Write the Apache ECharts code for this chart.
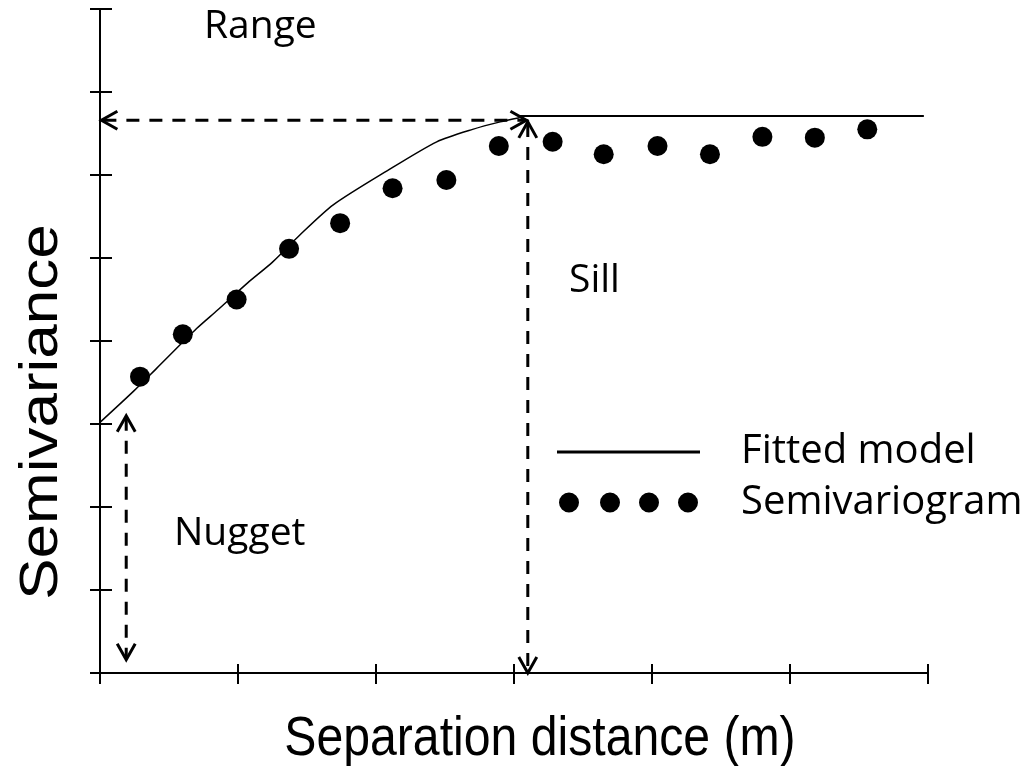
<!DOCTYPE html>
<html><head><meta charset="utf-8">
<script src="https://cdn.jsdelivr.net/npm/echarts@6/dist/echarts.min.js"></script>
<style>html,body{margin:0;padding:0;background:#fff}#c{width:1027px;height:766px}</style>
</head><body><div id="c"></div>
<script>
// ---- data ----
const semivariogramX = [0.29, 0.60, 0.99, 1.37, 1.74, 2.12, 2.51, 2.89, 3.28, 3.65, 4.04, 4.42, 4.80, 5.18, 5.56];
const semivariogramY = [3.57, 4.08, 4.50, 5.11, 5.42, 5.84, 5.94, 6.35, 6.40, 6.25, 6.35, 6.25, 6.46, 6.45, 6.55];
const modelX = [0.00, 0.24, 0.41, 0.70, 0.85, 1.07, 1.25, 1.45, 1.69, 2.08, 2.44, 2.70, 2.90, 3.04];
const modelY = [3.02, 3.39, 3.67, 4.15, 4.37, 4.70, 4.95, 5.28, 5.64, 6.05, 6.40, 6.55, 6.64, 6.69];
const sillLineX = [3.04, 5.97];
const sillLineY = [6.71, 6.71];
// annotation arrows: [x1, y1, x2, y2]
const rangeArrow = [0.01, 6.66, 3.09, 6.66];
const sillArrow = [3.10, 6.64, 3.10, 0.00];
const nuggetArrow = [0.19, 3.10, 0.19, 0.16];
const xMin = 0, xMax = 6, xStep = 1;
const yMin = 0, yMax = 8, yStep = 1;
const labels = {range: 'Range', sill: 'Sill', nugget: 'Nugget',
  xTitle: 'Separation distance (m)', yTitle: 'Semivariance',
  model: 'Fitted model', points: 'Semivariogram'};

const zip = (a, b) => a.map((v, i) => [v, b[i]]);
const BLACK = '#000';
const tickStyle = {color: BLACK, width: 2};

function arrowItem(params, api) {
  const p1 = api.coord([api.value(0), api.value(1)]);
  const p2 = api.coord([api.value(2), api.value(3)]);
  const dx = p2[0] - p1[0], dy = p2[1] - p1[1];
  const len = Math.hypot(dx, dy), ux = dx / len, uy = dy / len;
  const L = 16, W = 9;
  const head = (p, ax, ay) => ({
    type: 'polyline',
    shape: {points: [
      [p[0] - ax * L - ay * W, p[1] - ay * L + ax * W],
      [p[0], p[1]],
      [p[0] - ax * L + ay * W, p[1] - ay * L - ax * W]]},
    style: {stroke: BLACK, lineWidth: 3, fill: null, lineJoin: 'miter'}
  });
  return {type: 'group', children: [
    {type: 'line', shape: {x1: p1[0] + ux * 2, y1: p1[1] + uy * 2, x2: p2[0] - ux * 2, y2: p2[1] - uy * 2},
     style: {stroke: BLACK, lineWidth: 3, lineDash: [13, 10]}},
    head(p2, ux, uy), head(p1, -ux, -uy)
  ]};
}

const dotsIcon = 'path://M0,10a10,10 0 1,0 20,0a10,10 0 1,0 -20,0Z' +
  'M41,10a10,10 0 1,0 20,0a10,10 0 1,0 -20,0Z' +
  'M80,10a10,10 0 1,0 20,0a10,10 0 1,0 -20,0Z' +
  'M119,10a10,10 0 1,0 20,0a10,10 0 1,0 -20,0Z';

const chart = echarts.init(document.getElementById('c'), null, {renderer: 'canvas'});
const axisCommon = {type: 'value', axisLabel: {show: false}, splitLine: {show: false}};
chart.setOption({
  animation: false,
  backgroundColor: '#fff',
  grid: {left: 100, right: 99, top: 9, bottom: 93},
  xAxis: [
    Object.assign({}, axisCommon, {min: xMin, max: xMax, interval: xStep, position: 'bottom',
      axisLine: {show: true, onZero: false, lineStyle: {color: BLACK, width: 2}},
      axisTick: {show: true, inside: false, length: 11, lineStyle: tickStyle}}),
    Object.assign({}, axisCommon, {min: xMin, max: xMax, interval: xStep, position: 'bottom',
      axisLine: {show: false}, axisTick: {show: true, inside: true, length: 9, lineStyle: tickStyle}})
  ],
  yAxis: [
    Object.assign({}, axisCommon, {min: yMin, max: yMax, interval: yStep, position: 'left',
      axisLine: {show: true, onZero: false, lineStyle: {color: BLACK, width: 2}},
      axisTick: {show: true, inside: false, length: 10, lineStyle: tickStyle}}),
    Object.assign({}, axisCommon, {min: yMin, max: yMax, interval: yStep, position: 'left',
      axisLine: {show: false}, axisTick: {show: true, inside: true, length: 12, lineStyle: tickStyle}})
  ],
  legend: {
    orient: 'vertical', left: 557, top: 432, padding: 0, itemWidth: 143, itemHeight: 20, itemGap: 4,
    selectedMode: false,
    itemStyle: {borderWidth: 0, opacity: 1},
    textStyle: {fontFamily: 'Open Sans', fontSize: 40, color: BLACK, lineHeight: 30, padding: [0, 0, 0, 36]},
    data: [
      {name: labels.model, icon: 'path://M0,0H143V3H0Z', textStyle: {padding: [0, 0, 7, 36]}},
      {name: labels.points, icon: dotsIcon, textStyle: {padding: [0, 0, 23, 36]}}
    ]
  },
  series: [
    {name: labels.model, type: 'line', data: zip(modelX, modelY), symbol: 'none', color: BLACK, smooth: 0.25,
     lineStyle: {color: BLACK, width: 1.5}, silent: true, z: 3},
    {name: labels.model, type: 'line', data: zip(sillLineX, sillLineY), symbol: 'none', color: BLACK,
     lineStyle: {color: BLACK, width: 2}, silent: true, z: 3},
    {name: labels.points, type: 'scatter', data: zip(semivariogramX, semivariogramY), symbol: 'circle',
     symbolSize: 20, color: BLACK, itemStyle: {color: BLACK, opacity: 1}, silent: true, z: 4},
    {name: 'arrows', type: 'custom', renderItem: arrowItem, silent: true, clip: false, z: 2,
     data: [rangeArrow, sillArrow, nuggetArrow]}
  ],
  graphic: [
    {type: 'text', x: 204, y: 27, style: {text: labels.range, fontFamily: 'Open Sans', fontSize: 39, fill: BLACK, align: 'left', verticalAlign: 'middle'}},
    {type: 'text', x: 569, y: 281, style: {text: labels.sill, fontFamily: 'Open Sans', fontSize: 39, fill: BLACK, align: 'left', verticalAlign: 'middle'}},
    {type: 'text', x: 174, y: 534, style: {text: labels.nugget, fontFamily: 'Open Sans', fontSize: 39, fill: BLACK, align: 'left', verticalAlign: 'middle'}},
    {type: 'text', x: 540, y: 740, scaleX: 0.86, style: {text: labels.xTitle, fontFamily: 'Liberation Sans', fontSize: 56, fill: BLACK, align: 'center', verticalAlign: 'middle'}},
    {type: 'text', x: 42, y: 412, rotation: Math.PI / 2, scaleY: 0.86, style: {text: labels.yTitle, fontFamily: 'Liberation Sans', fontSize: 62, fill: BLACK, align: 'center', verticalAlign: 'middle'}}
  ]
});
</script></body></html>
